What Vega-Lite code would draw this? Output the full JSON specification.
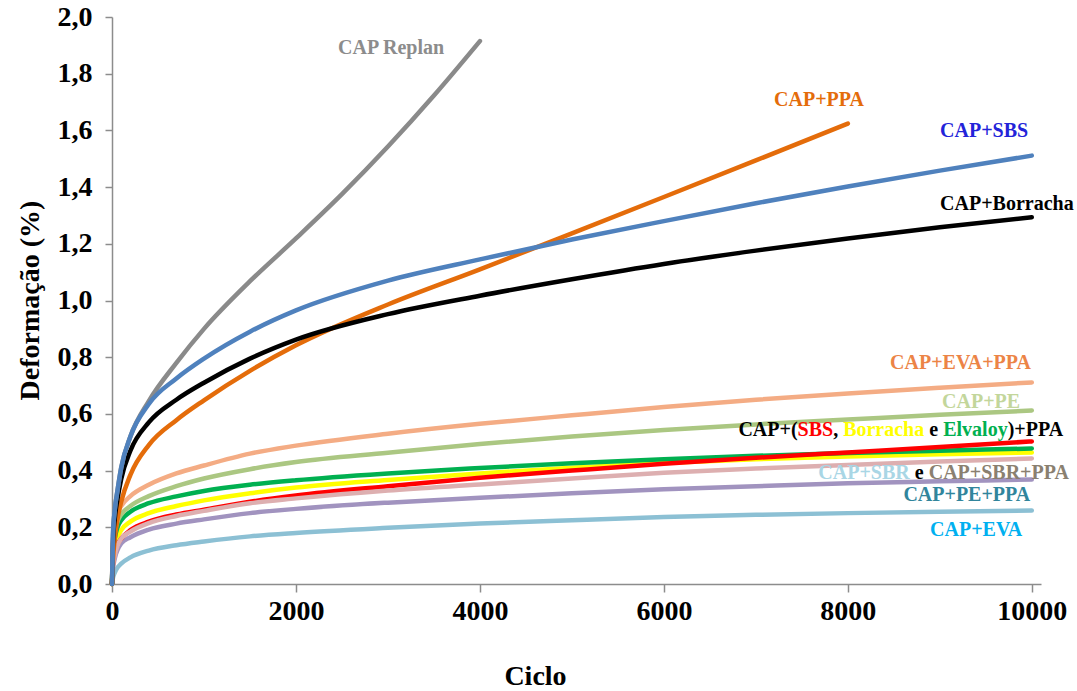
{
  "$schema": "https://vega.github.io/schema/vega-lite/v6.json",
  "autosize": {"type": "none"},
  "padding": {"left": 112, "top": 17, "right": 36, "bottom": 107},
  "width": 929,
  "height": 567,
  "background": "white",
  "config": {"view": {"stroke": null}, "font": "Liberation Serif"},
  "datasets": {
    "curvas": [
      {"serie": "CAP+EVA", "ciclo": 0, "def": 0}, {"serie": "CAP+EVA", "ciclo": 10, "def": 0.02}, {"serie": "CAP+EVA", "ciclo": 30, "def": 0.04}, {"serie": "CAP+EVA", "ciclo": 60, "def": 0.058}, {"serie": "CAP+EVA", "ciclo": 100, "def": 0.072}, {"serie": "CAP+EVA", "ciclo": 200, "def": 0.094}, {"serie": "CAP+EVA", "ciclo": 400, "def": 0.118}, {"serie": "CAP+EVA", "ciclo": 700, "def": 0.137}, {"serie": "CAP+EVA", "ciclo": 1000, "def": 0.15}, {"serie": "CAP+EVA", "ciclo": 1500, "def": 0.168}, {"serie": "CAP+EVA", "ciclo": 2000, "def": 0.18}, {"serie": "CAP+EVA", "ciclo": 3000, "def": 0.198}, {"serie": "CAP+EVA", "ciclo": 4000, "def": 0.213}, {"serie": "CAP+EVA", "ciclo": 5000, "def": 0.225}, {"serie": "CAP+EVA", "ciclo": 6000, "def": 0.236}, {"serie": "CAP+EVA", "ciclo": 7000, "def": 0.244}, {"serie": "CAP+EVA", "ciclo": 8000, "def": 0.25}, {"serie": "CAP+EVA", "ciclo": 9000, "def": 0.255}, {"serie": "CAP+EVA", "ciclo": 10000, "def": 0.259},
      {"serie": "CAP+PE+PPA", "ciclo": 0, "def": 0}, {"serie": "CAP+PE+PPA", "ciclo": 10, "def": 0.05}, {"serie": "CAP+PE+PPA", "ciclo": 30, "def": 0.09}, {"serie": "CAP+PE+PPA", "ciclo": 60, "def": 0.12}, {"serie": "CAP+PE+PPA", "ciclo": 100, "def": 0.143}, {"serie": "CAP+PE+PPA", "ciclo": 200, "def": 0.165}, {"serie": "CAP+PE+PPA", "ciclo": 400, "def": 0.192}, {"serie": "CAP+PE+PPA", "ciclo": 700, "def": 0.213}, {"serie": "CAP+PE+PPA", "ciclo": 1000, "def": 0.228}, {"serie": "CAP+PE+PPA", "ciclo": 1500, "def": 0.25}, {"serie": "CAP+PE+PPA", "ciclo": 2000, "def": 0.265}, {"serie": "CAP+PE+PPA", "ciclo": 3000, "def": 0.287}, {"serie": "CAP+PE+PPA", "ciclo": 4000, "def": 0.304}, {"serie": "CAP+PE+PPA", "ciclo": 5000, "def": 0.32}, {"serie": "CAP+PE+PPA", "ciclo": 6000, "def": 0.334}, {"serie": "CAP+PE+PPA", "ciclo": 7000, "def": 0.345}, {"serie": "CAP+PE+PPA", "ciclo": 8000, "def": 0.355}, {"serie": "CAP+PE+PPA", "ciclo": 9000, "def": 0.362}, {"serie": "CAP+PE+PPA", "ciclo": 10000, "def": 0.369},
      {"serie": "CAP+Borracha+PPA", "ciclo": 0, "def": 0}, {"serie": "CAP+Borracha+PPA", "ciclo": 10, "def": 0.08}, {"serie": "CAP+Borracha+PPA", "ciclo": 30, "def": 0.13}, {"serie": "CAP+Borracha+PPA", "ciclo": 60, "def": 0.165}, {"serie": "CAP+Borracha+PPA", "ciclo": 100, "def": 0.19}, {"serie": "CAP+Borracha+PPA", "ciclo": 200, "def": 0.22}, {"serie": "CAP+Borracha+PPA", "ciclo": 400, "def": 0.25}, {"serie": "CAP+Borracha+PPA", "ciclo": 700, "def": 0.275}, {"serie": "CAP+Borracha+PPA", "ciclo": 1000, "def": 0.295}, {"serie": "CAP+Borracha+PPA", "ciclo": 1500, "def": 0.32}, {"serie": "CAP+Borracha+PPA", "ciclo": 2000, "def": 0.34}, {"serie": "CAP+Borracha+PPA", "ciclo": 3000, "def": 0.367}, {"serie": "CAP+Borracha+PPA", "ciclo": 4000, "def": 0.39}, {"serie": "CAP+Borracha+PPA", "ciclo": 5000, "def": 0.41}, {"serie": "CAP+Borracha+PPA", "ciclo": 6000, "def": 0.427}, {"serie": "CAP+Borracha+PPA", "ciclo": 7000, "def": 0.44}, {"serie": "CAP+Borracha+PPA", "ciclo": 8000, "def": 0.45}, {"serie": "CAP+Borracha+PPA", "ciclo": 9000, "def": 0.458}, {"serie": "CAP+Borracha+PPA", "ciclo": 10000, "def": 0.464},
      {"serie": "CAP+Elvaloy+PPA", "ciclo": 0, "def": 0}, {"serie": "CAP+Elvaloy+PPA", "ciclo": 10, "def": 0.1}, {"serie": "CAP+Elvaloy+PPA", "ciclo": 30, "def": 0.16}, {"serie": "CAP+Elvaloy+PPA", "ciclo": 60, "def": 0.2}, {"serie": "CAP+Elvaloy+PPA", "ciclo": 100, "def": 0.225}, {"serie": "CAP+Elvaloy+PPA", "ciclo": 200, "def": 0.255}, {"serie": "CAP+Elvaloy+PPA", "ciclo": 400, "def": 0.285}, {"serie": "CAP+Elvaloy+PPA", "ciclo": 700, "def": 0.309}, {"serie": "CAP+Elvaloy+PPA", "ciclo": 1000, "def": 0.328}, {"serie": "CAP+Elvaloy+PPA", "ciclo": 1500, "def": 0.35}, {"serie": "CAP+Elvaloy+PPA", "ciclo": 2000, "def": 0.366}, {"serie": "CAP+Elvaloy+PPA", "ciclo": 3000, "def": 0.39}, {"serie": "CAP+Elvaloy+PPA", "ciclo": 4000, "def": 0.409}, {"serie": "CAP+Elvaloy+PPA", "ciclo": 5000, "def": 0.426}, {"serie": "CAP+Elvaloy+PPA", "ciclo": 6000, "def": 0.44}, {"serie": "CAP+Elvaloy+PPA", "ciclo": 7000, "def": 0.452}, {"serie": "CAP+Elvaloy+PPA", "ciclo": 8000, "def": 0.462}, {"serie": "CAP+Elvaloy+PPA", "ciclo": 9000, "def": 0.47}, {"serie": "CAP+Elvaloy+PPA", "ciclo": 10000, "def": 0.478},
      {"serie": "CAP+SBS+PPA", "ciclo": 0, "def": 0}, {"serie": "CAP+SBS+PPA", "ciclo": 10, "def": 0.07}, {"serie": "CAP+SBS+PPA", "ciclo": 30, "def": 0.11}, {"serie": "CAP+SBS+PPA", "ciclo": 60, "def": 0.14}, {"serie": "CAP+SBS+PPA", "ciclo": 100, "def": 0.16}, {"serie": "CAP+SBS+PPA", "ciclo": 200, "def": 0.19}, {"serie": "CAP+SBS+PPA", "ciclo": 400, "def": 0.22}, {"serie": "CAP+SBS+PPA", "ciclo": 700, "def": 0.245}, {"serie": "CAP+SBS+PPA", "ciclo": 1000, "def": 0.262}, {"serie": "CAP+SBS+PPA", "ciclo": 1500, "def": 0.29}, {"serie": "CAP+SBS+PPA", "ciclo": 2000, "def": 0.312}, {"serie": "CAP+SBS+PPA", "ciclo": 3000, "def": 0.345}, {"serie": "CAP+SBS+PPA", "ciclo": 4000, "def": 0.375}, {"serie": "CAP+SBS+PPA", "ciclo": 5000, "def": 0.4}, {"serie": "CAP+SBS+PPA", "ciclo": 6000, "def": 0.424}, {"serie": "CAP+SBS+PPA", "ciclo": 7000, "def": 0.445}, {"serie": "CAP+SBS+PPA", "ciclo": 8000, "def": 0.464}, {"serie": "CAP+SBS+PPA", "ciclo": 9000, "def": 0.483}, {"serie": "CAP+SBS+PPA", "ciclo": 10000, "def": 0.503},
      {"serie": "CAP+SBR", "ciclo": 0, "def": 0}, {"serie": "CAP+SBR", "ciclo": 10, "def": 0.06}, {"serie": "CAP+SBR", "ciclo": 30, "def": 0.1}, {"serie": "CAP+SBR", "ciclo": 60, "def": 0.135}, {"serie": "CAP+SBR", "ciclo": 100, "def": 0.16}, {"serie": "CAP+SBR", "ciclo": 200, "def": 0.185}, {"serie": "CAP+SBR", "ciclo": 400, "def": 0.215}, {"serie": "CAP+SBR", "ciclo": 700, "def": 0.24}, {"serie": "CAP+SBR", "ciclo": 1000, "def": 0.258}, {"serie": "CAP+SBR", "ciclo": 1500, "def": 0.285}, {"serie": "CAP+SBR", "ciclo": 2000, "def": 0.302}, {"serie": "CAP+SBR", "ciclo": 3000, "def": 0.33}, {"serie": "CAP+SBR", "ciclo": 4000, "def": 0.351}, {"serie": "CAP+SBR", "ciclo": 5000, "def": 0.372}, {"serie": "CAP+SBR", "ciclo": 6000, "def": 0.392}, {"serie": "CAP+SBR", "ciclo": 7000, "def": 0.407}, {"serie": "CAP+SBR", "ciclo": 8000, "def": 0.42}, {"serie": "CAP+SBR", "ciclo": 9000, "def": 0.432}, {"serie": "CAP+SBR", "ciclo": 10000, "def": 0.443},
      {"serie": "CAP+PE", "ciclo": 0, "def": 0}, {"serie": "CAP+PE", "ciclo": 10, "def": 0.12}, {"serie": "CAP+PE", "ciclo": 30, "def": 0.18}, {"serie": "CAP+PE", "ciclo": 60, "def": 0.22}, {"serie": "CAP+PE", "ciclo": 100, "def": 0.245}, {"serie": "CAP+PE", "ciclo": 200, "def": 0.275}, {"serie": "CAP+PE", "ciclo": 400, "def": 0.31}, {"serie": "CAP+PE", "ciclo": 700, "def": 0.345}, {"serie": "CAP+PE", "ciclo": 1000, "def": 0.372}, {"serie": "CAP+PE", "ciclo": 1500, "def": 0.405}, {"serie": "CAP+PE", "ciclo": 2000, "def": 0.43}, {"serie": "CAP+PE", "ciclo": 3000, "def": 0.463}, {"serie": "CAP+PE", "ciclo": 4000, "def": 0.494}, {"serie": "CAP+PE", "ciclo": 5000, "def": 0.52}, {"serie": "CAP+PE", "ciclo": 6000, "def": 0.543}, {"serie": "CAP+PE", "ciclo": 7000, "def": 0.563}, {"serie": "CAP+PE", "ciclo": 8000, "def": 0.58}, {"serie": "CAP+PE", "ciclo": 9000, "def": 0.597}, {"serie": "CAP+PE", "ciclo": 10000, "def": 0.612},
      {"serie": "CAP+EVA+PPA", "ciclo": 0, "def": 0}, {"serie": "CAP+EVA+PPA", "ciclo": 10, "def": 0.14}, {"serie": "CAP+EVA+PPA", "ciclo": 30, "def": 0.2}, {"serie": "CAP+EVA+PPA", "ciclo": 60, "def": 0.25}, {"serie": "CAP+EVA+PPA", "ciclo": 100, "def": 0.275}, {"serie": "CAP+EVA+PPA", "ciclo": 200, "def": 0.31}, {"serie": "CAP+EVA+PPA", "ciclo": 400, "def": 0.35}, {"serie": "CAP+EVA+PPA", "ciclo": 700, "def": 0.39}, {"serie": "CAP+EVA+PPA", "ciclo": 1000, "def": 0.418}, {"serie": "CAP+EVA+PPA", "ciclo": 1500, "def": 0.46}, {"serie": "CAP+EVA+PPA", "ciclo": 2000, "def": 0.488}, {"serie": "CAP+EVA+PPA", "ciclo": 3000, "def": 0.53}, {"serie": "CAP+EVA+PPA", "ciclo": 4000, "def": 0.565}, {"serie": "CAP+EVA+PPA", "ciclo": 5000, "def": 0.595}, {"serie": "CAP+EVA+PPA", "ciclo": 6000, "def": 0.624}, {"serie": "CAP+EVA+PPA", "ciclo": 7000, "def": 0.65}, {"serie": "CAP+EVA+PPA", "ciclo": 8000, "def": 0.672}, {"serie": "CAP+EVA+PPA", "ciclo": 9000, "def": 0.692}, {"serie": "CAP+EVA+PPA", "ciclo": 10000, "def": 0.711},
      {"serie": "CAP+PPA", "ciclo": 0, "def": 0}, {"serie": "CAP+PPA", "ciclo": 10, "def": 0.08}, {"serie": "CAP+PPA", "ciclo": 30, "def": 0.16}, {"serie": "CAP+PPA", "ciclo": 60, "def": 0.23}, {"serie": "CAP+PPA", "ciclo": 100, "def": 0.29}, {"serie": "CAP+PPA", "ciclo": 200, "def": 0.385}, {"serie": "CAP+PPA", "ciclo": 400, "def": 0.49}, {"serie": "CAP+PPA", "ciclo": 700, "def": 0.578}, {"serie": "CAP+PPA", "ciclo": 1000, "def": 0.648}, {"serie": "CAP+PPA", "ciclo": 1500, "def": 0.752}, {"serie": "CAP+PPA", "ciclo": 2000, "def": 0.842}, {"serie": "CAP+PPA", "ciclo": 3000, "def": 0.986}, {"serie": "CAP+PPA", "ciclo": 4000, "def": 1.11}, {"serie": "CAP+PPA", "ciclo": 5000, "def": 1.237}, {"serie": "CAP+PPA", "ciclo": 6000, "def": 1.365}, {"serie": "CAP+PPA", "ciclo": 7000, "def": 1.494}, {"serie": "CAP+PPA", "ciclo": 8000, "def": 1.624},
      {"serie": "CAP+Borracha", "ciclo": 0, "def": 0}, {"serie": "CAP+Borracha", "ciclo": 10, "def": 0.14}, {"serie": "CAP+Borracha", "ciclo": 30, "def": 0.23}, {"serie": "CAP+Borracha", "ciclo": 60, "def": 0.3}, {"serie": "CAP+Borracha", "ciclo": 100, "def": 0.37}, {"serie": "CAP+Borracha", "ciclo": 200, "def": 0.47}, {"serie": "CAP+Borracha", "ciclo": 400, "def": 0.57}, {"serie": "CAP+Borracha", "ciclo": 700, "def": 0.65}, {"serie": "CAP+Borracha", "ciclo": 1000, "def": 0.71}, {"serie": "CAP+Borracha", "ciclo": 1500, "def": 0.795}, {"serie": "CAP+Borracha", "ciclo": 2000, "def": 0.862}, {"serie": "CAP+Borracha", "ciclo": 3000, "def": 0.952}, {"serie": "CAP+Borracha", "ciclo": 4000, "def": 1.017}, {"serie": "CAP+Borracha", "ciclo": 5000, "def": 1.075}, {"serie": "CAP+Borracha", "ciclo": 6000, "def": 1.129}, {"serie": "CAP+Borracha", "ciclo": 7000, "def": 1.176}, {"serie": "CAP+Borracha", "ciclo": 8000, "def": 1.219}, {"serie": "CAP+Borracha", "ciclo": 9000, "def": 1.258}, {"serie": "CAP+Borracha", "ciclo": 10000, "def": 1.294},
      {"serie": "CAP Replan", "ciclo": 0, "def": 0}, {"serie": "CAP Replan", "ciclo": 10, "def": 0.17}, {"serie": "CAP Replan", "ciclo": 30, "def": 0.26}, {"serie": "CAP Replan", "ciclo": 60, "def": 0.33}, {"serie": "CAP Replan", "ciclo": 100, "def": 0.41}, {"serie": "CAP Replan", "ciclo": 200, "def": 0.52}, {"serie": "CAP Replan", "ciclo": 400, "def": 0.645}, {"serie": "CAP Replan", "ciclo": 700, "def": 0.78}, {"serie": "CAP Replan", "ciclo": 1000, "def": 0.9}, {"serie": "CAP Replan", "ciclo": 1500, "def": 1.068}, {"serie": "CAP Replan", "ciclo": 2000, "def": 1.219}, {"serie": "CAP Replan", "ciclo": 2500, "def": 1.375}, {"serie": "CAP Replan", "ciclo": 3000, "def": 1.543}, {"serie": "CAP Replan", "ciclo": 3500, "def": 1.723}, {"serie": "CAP Replan", "ciclo": 4000, "def": 1.915},
      {"serie": "CAP+SBS", "ciclo": 0, "def": 0}, {"serie": "CAP+SBS", "ciclo": 10, "def": 0.17}, {"serie": "CAP+SBS", "ciclo": 30, "def": 0.26}, {"serie": "CAP+SBS", "ciclo": 60, "def": 0.33}, {"serie": "CAP+SBS", "ciclo": 100, "def": 0.41}, {"serie": "CAP+SBS", "ciclo": 200, "def": 0.52}, {"serie": "CAP+SBS", "ciclo": 400, "def": 0.635}, {"serie": "CAP+SBS", "ciclo": 700, "def": 0.725}, {"serie": "CAP+SBS", "ciclo": 1000, "def": 0.795}, {"serie": "CAP+SBS", "ciclo": 1500, "def": 0.89}, {"serie": "CAP+SBS", "ciclo": 2000, "def": 0.965}, {"serie": "CAP+SBS", "ciclo": 3000, "def": 1.07}, {"serie": "CAP+SBS", "ciclo": 4000, "def": 1.145}, {"serie": "CAP+SBS", "ciclo": 5000, "def": 1.215}, {"serie": "CAP+SBS", "ciclo": 6000, "def": 1.28}, {"serie": "CAP+SBS", "ciclo": 7000, "def": 1.343}, {"serie": "CAP+SBS", "ciclo": 8000, "def": 1.402}, {"serie": "CAP+SBS", "ciclo": 9000, "def": 1.458}, {"serie": "CAP+SBS", "ciclo": 10000, "def": 1.511}
    ],
    "rotulos": [
      {"texto": "CAP Replan", "ciclo": 2457, "def": 1.892, "cor": "cinza"},
      {"texto": "CAP+PPA", "ciclo": 7198, "def": 1.707, "cor": "laranja"},
      {"texto": "CAP+SBS", "ciclo": 9003, "def": 1.599, "cor": "azul"},
      {"texto": "CAP+Borracha", "ciclo": 9003, "def": 1.342, "cor": "preto"},
      {"texto": "CAP+EVA+PPA", "ciclo": 8459, "def": 0.779, "cor": "salmao"},
      {"texto": "CAP+PE", "ciclo": 9025, "def": 0.643, "cor": "verdeclaro"},
      {"texto": "CAP+(", "ciclo": 6810, "def": 0.5425, "cor": "preto"},
      {"texto": "SBS", "ciclo": 7454, "def": 0.5425, "cor": "vermelho"},
      {"texto": ",", "ciclo": 7841, "def": 0.5425, "cor": "preto"},
      {"texto": "Borracha", "ciclo": 7949, "def": 0.5425, "cor": "amarelo"},
      {"texto": "e", "ciclo": 8885, "def": 0.5425, "cor": "preto"},
      {"texto": "Elvaloy", "ciclo": 9037, "def": 0.5425, "cor": "verde"},
      {"texto": ")+PPA", "ciclo": 9738, "def": 0.5425, "cor": "preto"},
      {"texto": "CAP+SBR", "ciclo": 7679, "def": 0.39, "cor": "azulclaro"},
      {"texto": "e", "ciclo": 8727, "def": 0.39, "cor": "preto"},
      {"texto": "CAP+SBR+PPA", "ciclo": 8879, "def": 0.39, "cor": "marrom"},
      {"texto": "CAP+PE+PPA", "ciclo": 8604, "def": 0.313, "cor": "petroleo"},
      {"texto": "CAP+EVA", "ciclo": 8894, "def": 0.19, "cor": "celeste"}
    ]
  },
  "layer": [
    {
      "data": {"name": "curvas"},
      "mark": {"type": "line", "interpolate": "monotone", "strokeWidth": 4.5, "strokeCap": "round"},
      "encoding": {
        "x": {
          "field": "ciclo", "type": "quantitative",
          "scale": {"domain": [0, 10100], "nice": false},
          "axis": {
            "values": [0, 2000, 4000, 6000, 8000, 10000], "format": "d",
            "grid": false, "labelFlush": false,
            "domainColor": "#8c8c8c", "domainWidth": 1.5, "tickColor": "#8c8c8c", "tickWidth": 1.5, "tickSize": 8,
            "labelFont": "Liberation Serif", "labelFontSize": 28, "labelFontWeight": "bold", "labelColor": "#000000", "labelPadding": 5,
            "title": "Ciclo", "titleFont": "Liberation Serif", "titleFontSize": 28, "titleFontWeight": "bold", "titleColor": "#000000",
            "titleX": 423, "titleY": 92, "titleBaseline": "middle", "titleAlign": "center"
          }
        },
        "y": {
          "field": "def", "type": "quantitative",
          "scale": {"domain": [0, 2], "nice": false},
          "axis": {
            "values": [0, 0.2, 0.4, 0.6, 0.8, 1.0, 1.2, 1.4, 1.6, 1.8, 2.0],
            "labelExpr": "replace(format(datum.value, '.1f'), '.', ',')",
            "grid": false, "labelFlush": false, "labelOverlap": false,
            "domainColor": "#8c8c8c", "domainWidth": 1.5, "tickColor": "#8c8c8c", "tickWidth": 1.5, "tickSize": 7,
            "labelFont": "Liberation Serif", "labelFontSize": 28, "labelFontWeight": "bold", "labelColor": "#000000", "labelPadding": 13,
            "title": "Deformação (%)", "titleFont": "Liberation Serif", "titleFontSize": 28, "titleFontWeight": "bold", "titleColor": "#000000",
            "titleX": -82, "titleY": 283, "titleAngle": -90, "titleBaseline": "middle", "titleAlign": "center"
          }
        },
        "color": {
          "field": "serie", "type": "nominal", "legend": null,
          "scale": {
            "domain": ["CAP Replan", "CAP+PPA", "CAP+SBS", "CAP+Borracha", "CAP+EVA+PPA", "CAP+PE", "CAP+Elvaloy+PPA", "CAP+Borracha+PPA", "CAP+SBS+PPA", "CAP+SBR", "CAP+PE+PPA", "CAP+EVA"],
            "range": ["#8a8a8a", "#e46c0a", "#4f81bd", "#000000", "#f4ac84", "#abc782", "#00b050", "#ffff00", "#ff0000", "#ddafb0", "#a193bf", "#8cc0d4"]
          }
        }
      }
    },
    {
      "data": {"name": "rotulos"},
      "mark": {"type": "text", "align": "left", "baseline": "middle", "font": "Liberation Serif", "fontWeight": "bold", "fontSize": 20},
      "encoding": {
        "x": {"field": "ciclo", "type": "quantitative"},
        "y": {"field": "def", "type": "quantitative"},
        "text": {"field": "texto"},
        "color": {
          "field": "cor", "type": "nominal", "legend": null,
          "scale": {
            "domain": ["cinza", "laranja", "azul", "preto", "salmao", "verdeclaro", "vermelho", "amarelo", "verde", "azulclaro", "marrom", "petroleo", "celeste"],
            "range": ["#8c8c8c", "#e46c0a", "#2323d9", "#000000", "#ec8446", "#c3d69b", "#ff0000", "#ffff00", "#00b050", "#a9d6e5", "#8a8070", "#31859c", "#00b0f0"]
          }
        }
      }
    }
  ],
  "resolve": {"scale": {"color": "independent"}}
}
